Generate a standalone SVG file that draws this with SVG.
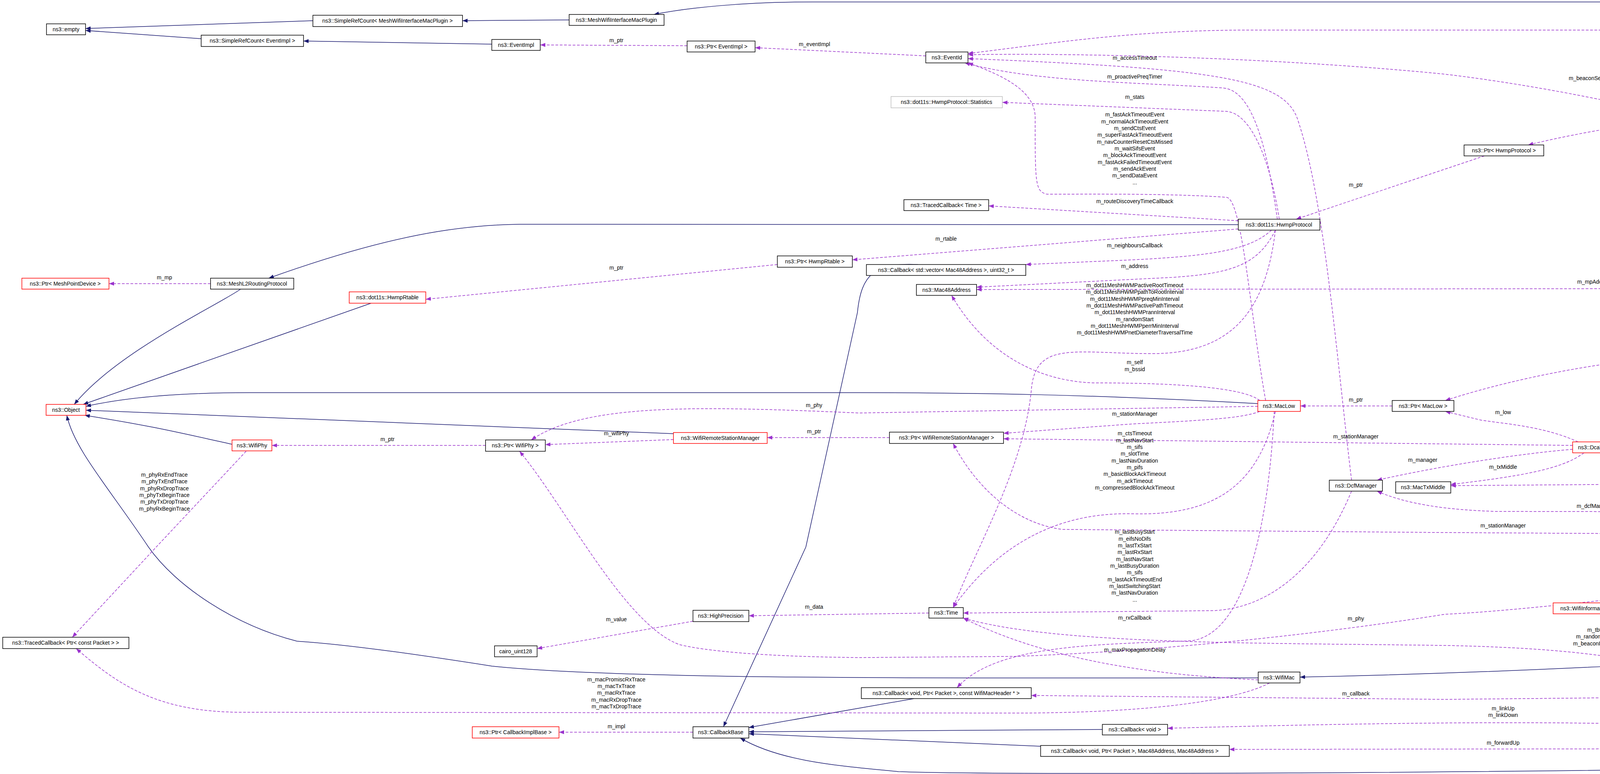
<svg xmlns="http://www.w3.org/2000/svg" width="6632" height="1981" viewBox="0 0 6632 1981">
<style>
.n rect{fill:#fff;stroke:#000;stroke-width:1.5}
.n.r rect{stroke:#ff0000}
.n.g rect{stroke:#bfbfbf}
.n.f rect{fill:#bfbfbf}
text{font-family:"Liberation Sans",Arial,sans-serif;font-size:14px;text-anchor:middle;fill:#000}
.i{fill:none;stroke:#191970;stroke-width:1.5;marker-end:url(#ai)}
.u{fill:none;stroke:#9a32cd;stroke-width:1.5;stroke-dasharray:7,4;marker-end:url(#au)}
</style>
<defs>
<marker id="ai" markerUnits="userSpaceOnUse" markerWidth="14" markerHeight="10" refX="13" refY="5" orient="auto"><path d="M0,0 L13,5 L0,10 z" fill="#191970"/></marker>
<marker id="au" markerUnits="userSpaceOnUse" markerWidth="14" markerHeight="10" refX="13" refY="5" orient="auto"><path d="M0,0 L13,5 L0,10 z" fill="#9a32cd"/></marker>
</defs>
<rect width="6632" height="1981" fill="#fff"/>
<g id="connectors">
<path class="i" d="M801,53 L219,73"/>
<path class="i" d="M515,99 L219,78"/>
<path class="i" d="M1457,51 L1184,53"/>
<path class="i" d="M1259,113 L777,105"/>
<path class="i" d="M6490,157 C6420,40 6370,5 6240,5 L2080,5 C1900,5 1760,20 1674,37"/>
<path class="i" d="M3170,575 L1330,574 C1180,576 1000,600 688,712"/>
<path class="i" d="M616,740 C560,780 300,900 190,1035"/>
<path class="i" d="M950,776 L213,1035"/>
<path class="i" d="M3220,1033 C2800,1010 2500,1005 2200,1005 L640,1005 C480,1005 330,1015 220,1040"/>
<path class="i" d="M1724,1110 L220,1050"/>
<path class="i" d="M594,1137 C470,1110 390,1090 217,1063"/>
<path class="i" d="M3221,1735 C2400,1735 1600,1740 1260,1705 C1100,1680 900,1650 760,1641 C600,1600 450,1500 380,1400 C280,1250 190,1150 171,1063"/>
<path class="i" d="M5417,1387 C5380,1500 5300,1610 5200,1625 C4500,1700 3700,1725 3328,1733"/>
<path class="i" d="M5757,937 L5435,1359"/>
<path class="i" d="M4512,1557 L4189,1557"/>
<path class="i" d="M2350,677 C2240,672 2205,700 2195,800 L2063,1400 L1852,1860"/>
<path class="i" d="M2340,1788 L1917,1862"/>
<path class="i" d="M2822,1867 L1917,1873"/>
<path class="i" d="M2664,1910 L1917,1878"/>
<path class="i" d="M4748,1960 C4000,1978 2600,1985 2300,1975 C2150,1960 2000,1950 1895,1889"/>

<path class="u" d="M1759,117 L1383,115"/>
<path class="u" d="M2370,143 L1933,122"/>
<path class="u" d="M6460,157 C6400,110 6300,77 6150,77 L3200,77 C2900,77 2700,110 2478,137"/>
<path class="u" d="M6390,162 C6300,150 6200,147 6130,147 L5580,147 C5400,147 5200,166 5000,200 C4600,270 4200,300 3912,371"/>
<path class="u" d="M6390,180 L6245,192"/>
<path class="u" d="M6458,185 C6430,210 6380,225 6264,238"/>
<path class="u" d="M6480,185 C6460,240 6400,275 6273,290"/>
<path class="u" d="M5988,208 C5930,300 5900,500 5773,909"/>
<path class="u" d="M3800,399 L3318,561"/>
<path class="u" d="M5750,909 C5600,700 5400,580 5200,548 C4700,400 4200,250 3700,190 C3300,150 2800,135 2478,140"/>
<path class="u" d="M3460,1229 C3420,900 3390,500 3320,300 C3280,200 3100,175 2478,150"/>
<path class="u" d="M3270,561 C3240,350 3200,230 3130,225 C2900,210 2650,210 2470,161"/>
<path class="u" d="M3275,561 C3250,400 3200,290 3140,285 L2566,262"/>
<path class="u" d="M3240,1025 C3200,800 3180,510 3140,505 C3000,495 2800,497 2680,497 C2650,490 2650,470 2650,300 C2650,230 2560,190 2478,161"/>
<path class="u" d="M3170,565 L2531,527"/>
<path class="u" d="M3170,586 L2182,665"/>
<path class="u" d="M1990,677 L1090,766"/>
<path class="u" d="M3255,589 C3200,640 3100,655 2900,665 L2626,677"/>
<path class="u" d="M3265,589 C3220,680 3150,700 3000,710 L2500,735"/>
<path class="u" d="M5735,909 C5650,800 5550,737 5430,737 L2500,741"/>
<path class="u" d="M3265,589 C3240,800 3150,905 2950,905 C2750,905 2650,870 2640,1000 C2620,1200 2500,1400 2440,1555"/>
<path class="u" d="M3225,1025 C3180,990 3000,980 2800,980 C2650,975 2520,900 2436,756"/>
<path class="u" d="M539,726 L279,726"/>
<path class="u" d="M3225,1053 C3180,1070 3100,1075 2900,1085 L2569,1109"/>
<path class="u" d="M3265,1053 C3220,1250 3100,1320 2900,1315 C2700,1310 2550,1400 2440,1555"/>
<path class="u" d="M3220,1040 L2200,1057 C1800,1040 1500,1030 1360,1126"/>
<path class="u" d="M1724,1125 L1396,1138"/>
<path class="u" d="M1243,1140 L696,1140"/>
<path class="u" d="M2277,1120 L1964,1120"/>
<path class="u" d="M4026,1140 L2569,1123"/>
<path class="u" d="M630,1155 L400,1400 L185,1631"/>
<path class="u" d="M5345,1370 C5000,1430 4000,1560 3700,1572 C3400,1620 3000,1665 2600,1680 L2200,1683 C1900,1680 1780,1660 1740,1650 C1600,1600 1450,1300 1330,1155"/>
<path class="u" d="M2378,1569 L1917,1576"/>
<path class="u" d="M1774,1590 L1375,1660"/>
<path class="u" d="M1774,1874 L1431,1874"/>
<path class="u" d="M3250,1748 C3150,1800 2900,1825 2600,1825 L620,1823 C400,1823 300,1750 195,1660"/>
<path class="u" d="M4213,1785 L3700,1790 L2640,1780"/>
<path class="u" d="M5420,1387 C5380,1600 5000,1900 4600,1880 C4300,1840 3700,1845 2989,1864"/>
<path class="u" d="M5415,1387 C5390,1700 5300,1900 5200,1915 L3147,1918"/>
<path class="u" d="M5760,937 C5740,1200 5700,1600 5660,1800 C5600,1900 5400,1960 5258,1968"/>
<path class="u" d="M5390,1359 C5300,1100 4900,902 4500,902 C4200,902 3900,960 3700,1025"/>
<path class="u" d="M4040,1131 C3950,1090 3850,1085 3790,1075 L3700,1053"/>
<path class="u" d="M3564,1039 L3329,1039"/>
<path class="u" d="M4470,1145 L4140,1145"/>
<path class="u" d="M5370,1359 C5250,1150 5050,1100 4900,1102 C4800,1105 4700,1115 4610,1131"/>
<path class="u" d="M5365,1359 C5300,1250 5100,1215 4723,1208"/>
<path class="u" d="M5360,1359 C5300,1290 5000,1240 4500,1237 L3714,1243"/>
<path class="u" d="M4055,1159 C4000,1200 3900,1218 3714,1240"/>
<path class="u" d="M4026,1150 C3900,1160 3700,1190 3525,1229"/>
<path class="u" d="M5350,1362 C5200,1340 4900,1310 4500,1310 L3830,1309 C3700,1305 3600,1290 3525,1257"/>
<path class="u" d="M5345,1373 L3700,1363 L2720,1355 C2600,1340 2500,1250 2440,1135"/>
<path class="u" d="M5345,1382 C5250,1520 5000,1600 4800,1600 C4700,1600 4650,1580 4592,1565"/>
<path class="u" d="M5740,937 C5650,1200 5500,1600 5200,1710 C5000,1760 4600,1820 4390,1770 C4300,1700 4100,1660 3700,1652 C3200,1645 2700,1650 2466,1582"/>
<path class="u" d="M5345,1376 C5100,1520 4700,1760 4357,1777"/>
<path class="u" d="M5667,923 L5563,923"/>
<path class="u" d="M3460,1257 C3380,1450 3250,1560 3100,1563 L2466,1569"/>
<path class="u" d="M3221,1740 C3000,1730 2700,1700 2466,1582"/>
<path class="u" d="M3262,1053 C3250,1300 3200,1620 3050,1640 C2800,1650 2550,1650 2450,1760"/>

<text x="1578" y="108">m_ptr</text>
<text x="2085" y="118">m_eventImpl</text>
<text x="4552" y="50">m_preqTimer</text>
<text x="4552" y="67">m_perrTimer</text>
<text x="5423" y="140">m_protocol</text>
<text x="6333" y="175">m_parent</text>
<text x="6332" y="203">m_myPerr</text>
<text x="6332" y="237">m_stats</text>
<text x="5916" y="247">m_ptr</text>
<text x="3471" y="478">m_ptr</text>
<text x="4083" y="205">m_beaconSendEvent</text>
<text x="2905" y="153">m_accessTimeout</text>
<text x="2905" y="201">m_proactivePreqTimer</text>
<text x="2905" y="253">m_stats</text>
<text x="2905" y="298">m_fastAckTimeoutEvent</text>
<text x="2905" y="316">m_normalAckTimeoutEvent</text>
<text x="2905" y="333">m_sendCtsEvent</text>
<text x="2905" y="350">m_superFastAckTimeoutEvent</text>
<text x="2905" y="368">m_navCounterResetCtsMissed</text>
<text x="2905" y="385">m_waitSifsEvent</text>
<text x="2905" y="402">m_blockAckTimeoutEvent</text>
<text x="2905" y="420">m_fastAckFailedTimeoutEvent</text>
<text x="2905" y="437">m_sendAckEvent</text>
<text x="2905" y="454">m_sendDataEvent</text>
<text x="2905" y="472">...</text>
<text x="2905" y="520">m_routeDiscoveryTimeCallback</text>
<text x="2422" y="616">m_rtable</text>
<text x="1578" y="690">m_ptr</text>
<text x="2905" y="633">m_neighboursCallback</text>
<text x="2905" y="686">m_address</text>
<text x="4083" y="726">m_mpAddress</text>
<text x="2905" y="735">m_dot11MeshHWMPactiveRootTimeout</text>
<text x="2905" y="752">m_dot11MeshHWMPpathToRootInterval</text>
<text x="2905" y="770">m_dot11MeshHWMPpreqMinInterval</text>
<text x="2905" y="787">m_dot11MeshHWMPactivePathTimeout</text>
<text x="2905" y="804">m_dot11MeshHWMPrannInterval</text>
<text x="2905" y="822">m_randomStart</text>
<text x="2905" y="839">m_dot11MeshHWMPperrMinInterval</text>
<text x="2905" y="856">m_dot11MeshHWMPnetDiameterTraversalTime</text>
<text x="2905" y="932">m_self</text>
<text x="2905" y="950">m_bssid</text>
<text x="421" y="715">m_mp</text>
<text x="4285" y="897">m_low</text>
<text x="5615" y="912">m_stats</text>
<text x="3471" y="1028">m_ptr</text>
<text x="2905" y="1064">m_stationManager</text>
<text x="2084" y="1042">m_phy</text>
<text x="2084" y="1109">m_ptr</text>
<text x="1578" y="1114">m_wifiPhy</text>
<text x="992" y="1129">m_ptr</text>
<text x="2905" y="1114">m_ctsTimeout</text>
<text x="2905" y="1132">m_lastNavStart</text>
<text x="2905" y="1149">m_sifs</text>
<text x="2905" y="1166">m_slotTime</text>
<text x="2905" y="1184">m_lastNavDuration</text>
<text x="2905" y="1201">m_pifs</text>
<text x="2905" y="1218">m_basicBlockAckTimeout</text>
<text x="2905" y="1236">m_ackTimeout</text>
<text x="2905" y="1253">m_compressedBlockAckTimeout</text>
<text x="3471" y="1122">m_stationManager</text>
<text x="3642" y="1182">m_manager</text>
<text x="3848" y="1060">m_low</text>
<text x="4285" y="1133">m_ptr</text>
<text x="4999" y="1090">m_dca</text>
<text x="4999" y="1179">m_txOkCallback</text>
<text x="4999" y="1196">m_txErrCallback</text>
<text x="3848" y="1200">m_txMiddle</text>
<text x="4285" y="1224">m_txMiddle</text>
<text x="4083" y="1300">m_dcfManager</text>
<text x="3848" y="1350">m_stationManager</text>
<text x="421" y="1220">m_phyRxEndTrace</text>
<text x="421" y="1237">m_phyTxEndTrace</text>
<text x="421" y="1255">m_phyRxDropTrace</text>
<text x="421" y="1272">m_phyTxBeginTrace</text>
<text x="421" y="1289">m_phyTxDropTrace</text>
<text x="421" y="1307">m_phyRxBeginTrace</text>
<text x="2905" y="1366">m_lastBusyStart</text>
<text x="2905" y="1384">m_eifsNoDifs</text>
<text x="2905" y="1401">m_lastTxStart</text>
<text x="2905" y="1418">m_lastRxStart</text>
<text x="2905" y="1436">m_lastNavStart</text>
<text x="2905" y="1453">m_lastBusyDuration</text>
<text x="2905" y="1470">m_sifs</text>
<text x="2905" y="1488">m_lastAckTimeoutEnd</text>
<text x="2905" y="1505">m_lastSwitchingStart</text>
<text x="2905" y="1522">m_lastNavDuration</text>
<text x="2905" y="1540">...</text>
<text x="4999" y="1530">m_ssid</text>
<text x="2084" y="1558">m_data</text>
<text x="1578" y="1590">m_value</text>
<text x="2905" y="1586">m_rxCallback</text>
<text x="3471" y="1588">m_phy</text>
<text x="4083" y="1617">m_tbtt</text>
<text x="4083" y="1634">m_randomStart</text>
<text x="4083" y="1652">m_beaconInterval</text>
<text x="2905" y="1668">m_maxPropagationDelay</text>
<text x="4552" y="1738">m_rxMiddle</text>
<text x="1578" y="1744">m_macPromiscRxTrace</text>
<text x="1578" y="1761">m_macTxTrace</text>
<text x="1578" y="1778">m_macRxTrace</text>
<text x="1578" y="1796">m_macRxDropTrace</text>
<text x="1578" y="1813">m_macTxDropTrace</text>
<text x="3471" y="1780">m_callback</text>
<text x="3848" y="1818">m_linkUp</text>
<text x="3848" y="1835">m_linkDown</text>
<text x="1578" y="1864">m_impl</text>
<text x="5423" y="1877">m_linkMetricCallback</text>
<text x="3848" y="1906">m_forwardUp</text>
</g>

<g id="n1" class="n"><rect x="119" y="61" width="100" height="28"/><text x="169" y="80">ns3::empty</text></g>
<g id="n2" class="n"><rect x="801" y="39" width="383" height="29"/><text x="992" y="58">ns3::SimpleRefCount&lt; MeshWifiInterfaceMacPlugin &gt;</text></g>
<g id="n3" class="n"><rect x="515" y="90" width="262" height="29"/><text x="646" y="109">ns3::SimpleRefCount&lt; EventImpl &gt;</text></g>
<g id="n4" class="n"><rect x="1457" y="37" width="243" height="28"/><text x="1578" y="56">ns3::MeshWifiInterfaceMacPlugin</text></g>
<g id="n5" class="n"><rect x="1259" y="101" width="124" height="28"/><text x="1321" y="120">ns3::EventImpl</text></g>
<g id="n6" class="n"><rect x="1759" y="105" width="174" height="28"/><text x="1846" y="124">ns3::Ptr&lt; EventImpl &gt;</text></g>
<g id="n7" class="n"><rect x="2370" y="133" width="108" height="28"/><text x="2424" y="152">ns3::EventId</text></g>
<g id="n8" class="n g"><rect x="2281" y="247" width="285" height="29"/><text x="2423" y="266">ns3::dot11s::HwmpProtocol::Statistics</text></g>
<g id="n9" class="n"><rect x="2314" y="511" width="217" height="28"/><text x="2422" y="530">ns3::TracedCallback&lt; Time &gt;</text></g>
<g id="n10" class="n"><rect x="3170" y="561" width="209" height="28"/><text x="3274" y="580">ns3::dot11s::HwmpProtocol</text></g>
<g id="n11" class="n"><rect x="2218" y="677" width="408" height="28"/><text x="2422" y="696">ns3::Callback&lt; std::vector&lt; Mac48Address &gt;, uint32_t &gt;</text></g>
<g id="n12" class="n"><rect x="2346" y="728" width="154" height="28"/><text x="2423" y="747">ns3::Mac48Address</text></g>
<g id="n13" class="n"><rect x="3748" y="371" width="204" height="28"/><text x="3850" y="390">ns3::Ptr&lt; HwmpProtocol &gt;</text></g>
<g id="n14" class="n f"><rect x="6390" y="157" width="238" height="28"/><text x="6509" y="176">ns3::dot11s::HwmpProtocolMac</text></g>
<g id="n15" class="n"><rect x="5988" y="187" width="257" height="28"/><text x="6116" y="206">ns3::Ptr&lt; MeshWifiInterfaceMac &gt;</text></g>
<g id="n16" class="n g"><rect x="5969" y="238" width="295" height="29"/><text x="6116" y="257">ns3::dot11s::HwmpProtocolMac::MyPerr</text></g>
<g id="n17" class="n g"><rect x="5960" y="290" width="313" height="28"/><text x="6116" y="309">ns3::dot11s::HwmpProtocolMac::Statistics</text></g>
<g id="n18" class="n"><rect x="5667" y="909" width="205" height="28"/><text x="5769" y="928">ns3::MeshWifiInterfaceMac</text></g>
<g id="n19" class="n g"><rect x="5282" y="909" width="281" height="28"/><text x="5422" y="928">ns3::MeshWifiInterfaceMac::Statistics</text></g>
<g id="n20" class="n r"><rect x="56" y="712" width="223" height="28"/><text x="167" y="731">ns3::Ptr&lt; MeshPointDevice &gt;</text></g>
<g id="n21" class="n"><rect x="539" y="712" width="213" height="28"/><text x="645" y="731">ns3::MeshL2RoutingProtocol</text></g>
<g id="n22" class="n r"><rect x="894" y="747" width="196" height="29"/><text x="992" y="766">ns3::dot11s::HwmpRtable</text></g>
<g id="n23" class="n"><rect x="1990" y="655" width="192" height="29"/><text x="2086" y="674">ns3::Ptr&lt; HwmpRtable &gt;</text></g>
<g id="n24" class="n r"><rect x="118" y="1035" width="102" height="28"/><text x="169" y="1054">ns3::Object</text></g>
<g id="n25" class="n r"><rect x="594" y="1126" width="102" height="28"/><text x="645" y="1145">ns3::WifiPhy</text></g>
<g id="n26" class="n"><rect x="1243" y="1126" width="153" height="29"/><text x="1319" y="1145">ns3::Ptr&lt; WifiPhy &gt;</text></g>
<g id="n27" class="n r"><rect x="1724" y="1107" width="240" height="28"/><text x="1844" y="1126">ns3::WifiRemoteStationManager</text></g>
<g id="n28" class="n"><rect x="7" y="1631" width="323" height="29"/><text x="168" y="1650">ns3::TracedCallback&lt; Ptr&lt; const Packet &gt; &gt;</text></g>
<g id="n29" class="n"><rect x="1774" y="1562" width="143" height="29"/><text x="1845" y="1581">ns3::HighPrecision</text></g>
<g id="n30" class="n"><rect x="1266" y="1653" width="109" height="28"/><text x="1320" y="1672">cairo_uint128</text></g>
<g id="n31" class="n r"><rect x="1209" y="1860" width="222" height="29"/><text x="1320" y="1879">ns3::Ptr&lt; CallbackImplBase &gt;</text></g>
<g id="n32" class="n"><rect x="1774" y="1860" width="143" height="29"/><text x="1845" y="1879">ns3::CallbackBase</text></g>
<g id="n33" class="n r"><rect x="3220" y="1025" width="109" height="28"/><text x="3274" y="1044">ns3::MacLow</text></g>
<g id="n34" class="n"><rect x="3564" y="1025" width="158" height="28"/><text x="3643" y="1044">ns3::Ptr&lt; MacLow &gt;</text></g>
<g id="n35" class="n"><rect x="2277" y="1106" width="292" height="29"/><text x="2423" y="1125">ns3::Ptr&lt; WifiRemoteStationManager &gt;</text></g>
<g id="n36" class="n"><rect x="3403" y="1229" width="136" height="28"/><text x="3471" y="1248">ns3::DcfManager</text></g>
<g id="n37" class="n"><rect x="3573" y="1233" width="141" height="29"/><text x="3643" y="1252">ns3::MacTxMiddle</text></g>
<g id="n38" class="n"><rect x="2378" y="1555" width="88" height="27"/><text x="2422" y="1573">ns3::Time</text></g>
<g id="n39" class="n"><rect x="3221" y="1720" width="107" height="28"/><text x="3274" y="1739">ns3::WifiMac</text></g>
<g id="n40" class="n"><rect x="2205" y="1760" width="435" height="28"/><text x="2422" y="1779">ns3::Callback&lt; void, Ptr&lt; Packet &gt;, const WifiMacHeader * &gt;</text></g>
<g id="n41" class="n"><rect x="2822" y="1854" width="167" height="27"/><text x="2905" y="1872">ns3::Callback&lt; void &gt;</text></g>
<g id="n42" class="n"><rect x="2664" y="1908" width="483" height="28"/><text x="2905" y="1927">ns3::Callback&lt; void, Ptr&lt; Packet &gt;, Mac48Address, Mac48Address &gt;</text></g>
<g id="n43" class="n r"><rect x="4026" y="1131" width="114" height="28"/><text x="4083" y="1150">ns3::DcaTxop</text></g>
<g id="n44" class="n"><rect x="4470" y="1131" width="164" height="28"/><text x="4552" y="1150">ns3::Ptr&lt; DcaTxop &gt;</text></g>
<g id="n45" class="n"><rect x="4382" y="1192" width="341" height="28"/><text x="4552" y="1211">ns3::TracedCallback&lt; const WifiMacHeader &amp; &gt;</text></g>
<g id="n46" class="n r"><rect x="3976" y="1543" width="213" height="28"/><text x="4082" y="1562">ns3::WifiInformationElement</text></g>
<g id="n47" class="n"><rect x="4512" y="1543" width="80" height="28"/><text x="4552" y="1562">ns3::Ssid</text></g>
<g id="n48" class="n"><rect x="4213" y="1769" width="144" height="28"/><text x="4285" y="1788">ns3::MacRxMiddle</text></g>
<g id="n49" class="n"><rect x="4748" y="1945" width="510" height="28"/><text x="5003" y="1964">ns3::Callback&lt; uint32_t, Mac48Address, Ptr&lt; MeshWifiInterfaceMac &gt; &gt;</text></g>
<g id="n50" class="n"><rect x="5345" y="1359" width="156" height="28"/><text x="5423" y="1378">ns3::RegularWifiMac</text></g>
</svg>
